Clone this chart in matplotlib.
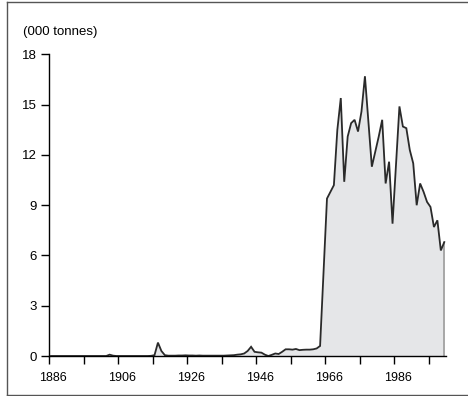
import numpy as np
import matplotlib.pyplot as plt
from matplotlib.lines import Line2D
from matplotlib.transforms import ScaledTranslation

plt.rcParams['font.family'] = ['Liberation Sans', 'DejaVu Sans']

# annual output, thousand tonnes
years = np.arange(1886, 2001)
output = [
    # 1886-1902
    0, 0, 0, 0, 0, 0, 0, 0, 0, 0, 0, 0, 0, 0, 0, 0, 0,
    # 1903-1915
    0.08, 0.02, 0, 0, 0, 0, 0, 0, 0, 0, 0, 0, 0.01,
    # 1916-1939
    0.05, 0.8, 0.3, 0.05, 0.02, 0.02, 0.02, 0.03, 0.03, 0.04, 0.03, 0.03,
    0.02, 0.03, 0.02, 0.02, 0.02, 0.02, 0.02, 0.02, 0.02, 0.03, 0.04, 0.05,
    # 1940-1963
    0.08, 0.1, 0.15, 0.3, 0.55, 0.25, 0.22, 0.2, 0.08, 0.0, 0.07, 0.15,
    0.12, 0.25, 0.4, 0.4, 0.38, 0.42, 0.35, 0.37, 0.38, 0.38, 0.4, 0.45,
    # 1964-2000
    0.6, 5.0, 9.4, 9.8, 10.2, 13.5, 15.4, 10.4, 13.1, 13.9, 14.1, 13.4,
    14.6, 16.7, 14.0, 11.3, 12.2, 13.1, 14.1, 10.3, 11.6, 7.9, 11.4, 14.9,
    13.7, 13.6, 12.3, 11.5, 9.0, 10.3, 9.8, 9.2, 8.9, 7.7, 8.1, 6.3, 6.8,
]
output = np.array(output)
xticks = np.arange(1886, 2001, 10)
xlabels = [str(y) if (y - 1886) % 20 == 0 else '' for y in xticks]
yticks = [0, 3, 6, 9, 12, 15, 18]

fig = plt.figure(figsize=(4.68, 3.96), dpi=100)
ax = fig.add_axes([0.1053, 0.101, 0.8477, 0.7614])

# values sit at mid-year
xs = years + 0.5
ax.fill_between(xs, output, 0, color='#e5e6e8', lw=0)
ax.vlines(xs[-1], 0, output[-1], color='#9c9c9c', lw=1.2)
ax.plot(xs, output, color='#2a2a2a', lw=1.3, solid_joinstyle='miter')

ax.set_xlim(1886, 2001)
ax.set_ylim(0, 18)
ax.set_xticks(xticks)
ax.set_xticklabels(xlabels)
ax.set_yticks(yticks)

for s in ['top', 'right']:
    ax.spines[s].set_visible(False)
ax.spines['left'].set_linewidth(1.0)
ax.spines['bottom'].set_linewidth(1.0)
ax.tick_params(axis='x', length=6, width=1, pad=5.5, labelsize=9)
ax.tick_params(axis='y', length=6, width=1, pad=3, labelsize=9.5)

# nudge year labels a little to the right
shift = ScaledTranslation(3.5 / 100, 0, fig.dpi_scale_trans)
for lab in ax.get_xticklabels():
    lab.set_transform(lab.get_transform() + shift)

fig.text(0.05, 0.919, '(000 tonnes)', fontsize=9.5, va='center', ha='left')

# panel frame
frame = dict(color='#555555', lw=1.0, transform=fig.transFigure)
fig.add_artist(Line2D([0.0139, 0.0139], [0.0025, 0.9957], **frame))
fig.add_artist(Line2D([0.0139, 1.0], [0.9957, 0.9957], **frame))
fig.add_artist(Line2D([0.0139, 1.0], [0.0025, 0.0025], **frame))

plt.savefig('out.png', format='png', dpi=100)
